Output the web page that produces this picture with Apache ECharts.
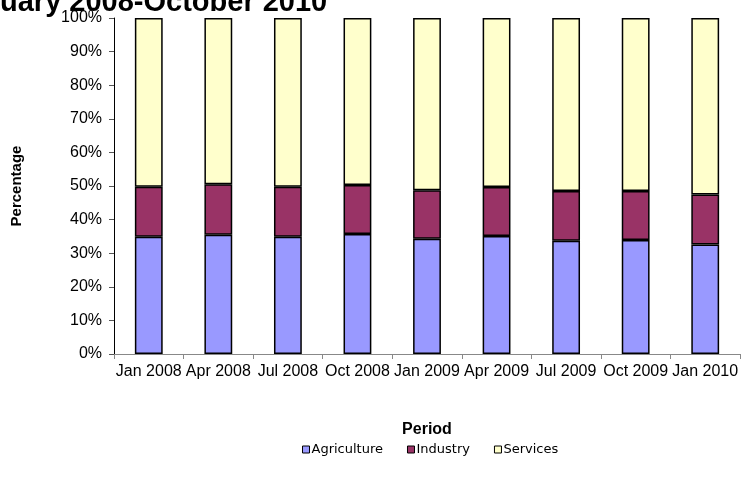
<!DOCTYPE html>
<html>
<head>
<meta charset="utf-8">
<script src="https://cdn.jsdelivr.net/npm/echarts@6/dist/echarts.min.js"></script>
<style>
  html, body { margin: 0; padding: 0; background: #fff; }
  #chart { width: 741px; height: 482px; }
</style>
</head>
<body>
<div id="chart"></div>
<script>
// data (percent)
var periods = ['Jan 2008', 'Apr 2008', 'Jul 2008', 'Oct 2008', 'Jan 2009', 'Apr 2009', 'Jul 2009', 'Oct 2009', 'Jan 2010']
var agriculture = [34.9, 35.5, 34.9, 35.7, 34.3, 35.1, 33.7, 33.9, 32.6]
var industry = [14.9, 15.0, 14.9, 14.6, 14.4, 14.6, 14.8, 14.6, 14.9]
var services = [50.2, 49.5, 50.2, 49.7, 51.3, 50.3, 51.5, 51.5, 52.5]

var font = "'Liberation Sans', Arial, sans-serif"

function bar (name, data, color) {
  return {
    name: name,
    type: 'bar',
    stack: 'total',
    barWidth: '40%',
    data: data,
    itemStyle: { color: color, borderColor: '#000', borderWidth: 1.5 }
  }
}

var chart = echarts.init(document.getElementById('chart'))
chart.setOption({
  animation: false,
  title: {
    text: 'uary 2008-October 2010',
    left: 0,
    top: -12,
    padding: 0,
    textStyle: { fontFamily: font, fontSize: 29, fontWeight: 'bold', color: '#000' }
  },
  legend: {
    top: 438,
    left: 297,
    itemWidth: 7,
    itemHeight: 7,
    itemGap: 24,
    icon: 'rect',
    itemStyle: { borderColor: '#000', borderWidth: 1 },
    textStyle: { fontFamily: "'DejaVu Sans', sans-serif", fontSize: 13, color: '#000', padding: [0, 0, 0, -3] },
    data: ['Agriculture', 'Industry', 'Services']
  },
  grid: { left: 114, right: 1, top: 18, bottom: 128, outerBoundsMode: 'none' },
  xAxis: {
    type: 'category',
    data: periods,
    name: 'Period',
    nameLocation: 'middle',
    nameGap: 68,
    nameTextStyle: { fontFamily: font, fontSize: 16, fontWeight: 'bold', color: '#000' },
    axisLine: { lineStyle: { color: '#888', width: 1 } },
    axisTick: { show: true, length: 5, lineStyle: { color: '#888' } },
    axisLabel: { interval: 0, fontFamily: font, fontSize: 16, color: '#000', margin: 10 }
  },
  yAxis: {
    type: 'value',
    min: 0,
    max: 100,
    interval: 10,
    name: 'Percentage',
    nameLocation: 'middle',
    nameGap: 78,
    nameTextStyle: { fontFamily: font, fontSize: 15, fontWeight: 'bold', color: '#000', padding: [0, 0, 12, 0] },
    axisLine: { show: true, lineStyle: { color: '#000', width: 1 } },
    axisTick: { show: true, length: 5, lineStyle: { color: '#555' } },
    splitLine: { show: false },
    axisLabel: { formatter: '{value}%', fontFamily: font, fontSize: 16, color: '#000', margin: 12 }
  },
  series: [
    bar('Agriculture', agriculture, '#9999ff'),
    bar('Industry', industry, '#993366'),
    bar('Services', services, '#ffffcc')
  ]
})
</script>
</body>
</html>
